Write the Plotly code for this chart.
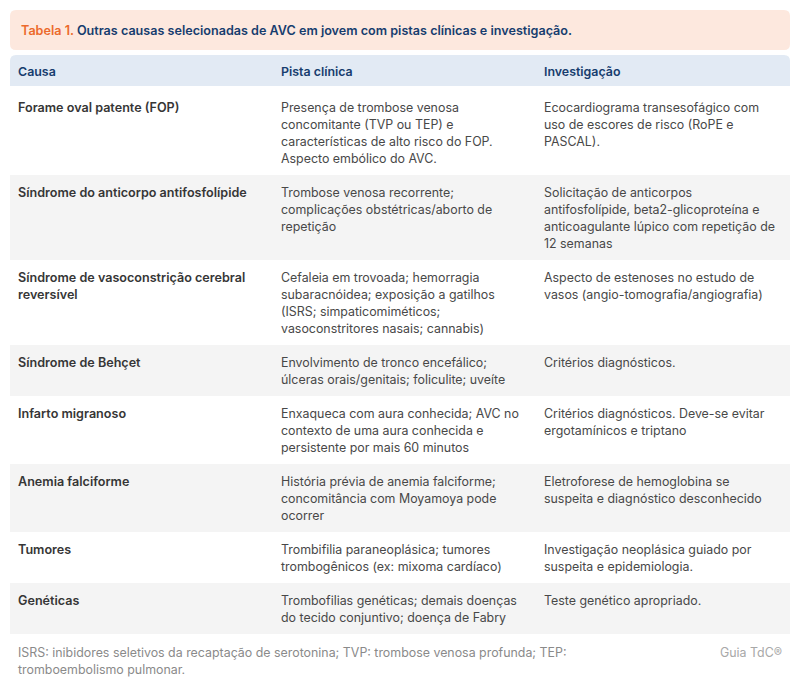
import plotly.graph_objects as go

W, H = 800, 699

title_prefix = "Tabela 1."
title_text = "Outras causas selecionadas de AVC em jovem com pistas clínicas e investigação."
headers = ["Causa", "Pista clínica", "Investigação"]

causes = [
    "Forame oval patente (FOP)",
    "Síndrome do anticorpo antifosfolípide",
    "Síndrome de vasoconstrição cerebral<br>reversível",
    "Síndrome de Behçet",
    "Infarto migranoso",
    "Anemia falciforme",
    "Tumores",
    "Genéticas",
]
clues = [
    "Presença de trombose venosa<br>concomitante (TVP ou TEP) e<br>características de alto risco do FOP.<br>Aspecto embólico do AVC.",
    "Trombose venosa recorrente;<br>complicações obstétricas/aborto de<br>repetição",
    "Cefaleia em trovoada; hemorragia<br>subaracnóidea; exposição a gatilhos<br>(ISRS; simpaticomiméticos;<br>vasoconstritores nasais; cannabis)",
    "Envolvimento de tronco encefálico;<br>úlceras orais/genitais; foliculite; uveíte",
    "Enxaqueca com aura conhecida; AVC no<br>contexto de uma aura conhecida e<br>persistente por mais 60 minutos",
    "História prévia de anemia falciforme;<br>concomitância com Moyamoya pode<br>ocorrer",
    "Trombifilia paraneoplásica; tumores<br>trombogênicos (ex: mixoma cardíaco)",
    "Trombofilias genéticas; demais doenças<br>do tecido conjuntivo; doença de Fabry",
]
investigations = [
    "Ecocardiograma transesofágico com<br>uso de escores de risco (RoPE e<br>PASCAL).",
    "Solicitação de anticorpos<br>antifosfolípide, beta2-glicoproteína e<br>anticoagulante lúpico com repetição de<br>12 semanas",
    "Aspecto de estenoses no estudo de<br>vasos (angio-tomografia/angiografia)",
    "Critérios diagnósticos.",
    "Critérios diagnósticos. Deve-se evitar<br>ergotamínicos e triptano",
    "Eletroforese de hemoglobina se<br>suspeita e diagnóstico desconhecido",
    "Investigação neoplásica guiado por<br>suspeita e epidemiologia.",
    "Teste genético apropriado.",
]
footnote = "ISRS: inibidores seletivos da recaptação de serotonina; TVP: trombose venosa profunda; TEP:<br>tromboembolismo pulmonar."
brand = "Guia TdC®"

# ---- layout constants ----
FONT = "Inter, Roboto, sans-serif"
FS = 12.4
FS_BOLD = 12.6
LINE = 17.3
ROW_LINE = 17
ROW_EXTRA = 17
FIRST_EXTRA = 4
LEFT, RIGHT = 10, 790
COL_X = [18, 281, 544]
TITLE_X = 21
TITLE_Y0, TITLE_Y1 = 10, 50
HEAD_Y0, HEAD_Y1 = 55, 86
R = 6

C_TITLE_BG = "#fde8de"
C_HEAD_BG = "#e2eaf4"
C_ALT = "#f4f4f4"
C_ORANGE = "#ec6a2c"
C_NAVY = "#173d6e"
C_CAUSE = "#363636"
C_BODY = "#484848"
C_FOOT = "#8a8a8a"


def rrect(x0, y0, x1, y1, r, top=True, bottom=True):
    rt = r if top else 0
    rb = r if bottom else 0
    return (f"M {x0+rt},{y0} L {x1-rt},{y0} Q {x1},{y0} {x1},{y0+rt} "
            f"L {x1},{y1-rb} Q {x1},{y1} {x1-rb},{y1} L {x0+rb},{y1} "
            f"Q {x0},{y1} {x0},{y1-rb} L {x0},{y0+rt} Q {x0},{y0} {x0+rt},{y0} Z")


shapes = []
annotations = []


def add_text(x, y, text, color, weight=400, xanchor="left", size=FS):
    annotations.append(dict(x=x, y=y, xanchor=xanchor, yanchor="middle", text=text,
                            font=dict(family=FONT, size=size, color=color, weight=weight),
                            showarrow=False, borderpad=0, borderwidth=0))


def add_block(x, y_first, text, color, weight=400, xanchor="left", size=FS):
    for k, line in enumerate(text.split("<br>")):
        add_text(x, y_first + k * LINE, line, color, weight, xanchor, size)


# title box
shapes.append(dict(type="path", path=rrect(LEFT, TITLE_Y0, RIGHT, TITLE_Y1, R),
                   fillcolor=C_TITLE_BG, line=dict(width=0), layer="below"))
add_text(TITLE_X, (TITLE_Y0 + TITLE_Y1) / 2,
         f"<span style='color:{C_ORANGE}'>{title_prefix}</span> {title_text}", C_NAVY, 600,
         size=FS_BOLD)

# header
shapes.append(dict(type="path", path=rrect(LEFT, HEAD_Y0, RIGHT, HEAD_Y1, R, bottom=False),
                   fillcolor=C_HEAD_BG, line=dict(width=0), layer="below"))
for cx, h in zip(COL_X, headers):
    add_text(cx, (HEAD_Y0 + HEAD_Y1) / 2 + 0.5, h, C_NAVY, 600)

# rows
y = HEAD_Y1
for i, (c, p, inv) in enumerate(zip(causes, clues, investigations)):
    nlines = max(t.count("<br>") + 1 for t in (c, p, inv))
    extra = FIRST_EXTRA if i == 0 else 0
    h = nlines * ROW_LINE + ROW_EXTRA + extra
    if i % 2 == 1:
        shapes.append(dict(type="rect", x0=LEFT, x1=RIGHT, y0=y, y1=y + h,
                           fillcolor=C_ALT, line=dict(width=0), layer="below"))
    y_first = y + 17 + extra
    add_block(COL_X[0], y_first, c, C_CAUSE, 600, size=FS_BOLD)
    add_block(COL_X[1], y_first, p, C_BODY)
    add_block(COL_X[2], y_first, inv, C_BODY)
    y += h

# footnote
add_block(COL_X[0], y + 18, footnote, C_FOOT)
add_text(RIGHT - 8, y + 18, brand, "#a8a8a8", xanchor="right")

fig = go.Figure()
fig.update_layout(
    width=W, height=H, margin=dict(l=0, r=0, t=0, b=0),
    paper_bgcolor="white", plot_bgcolor="white",
    xaxis=dict(range=[0, W], visible=False, fixedrange=True),
    yaxis=dict(range=[H, 0], visible=False, fixedrange=True),
    shapes=shapes, annotations=annotations, showlegend=False,
)
fig.write_html("out.html", config={"displayModeBar": False},
               post_script="document.body.style.margin='0';document.body.style.overflow='hidden';")
